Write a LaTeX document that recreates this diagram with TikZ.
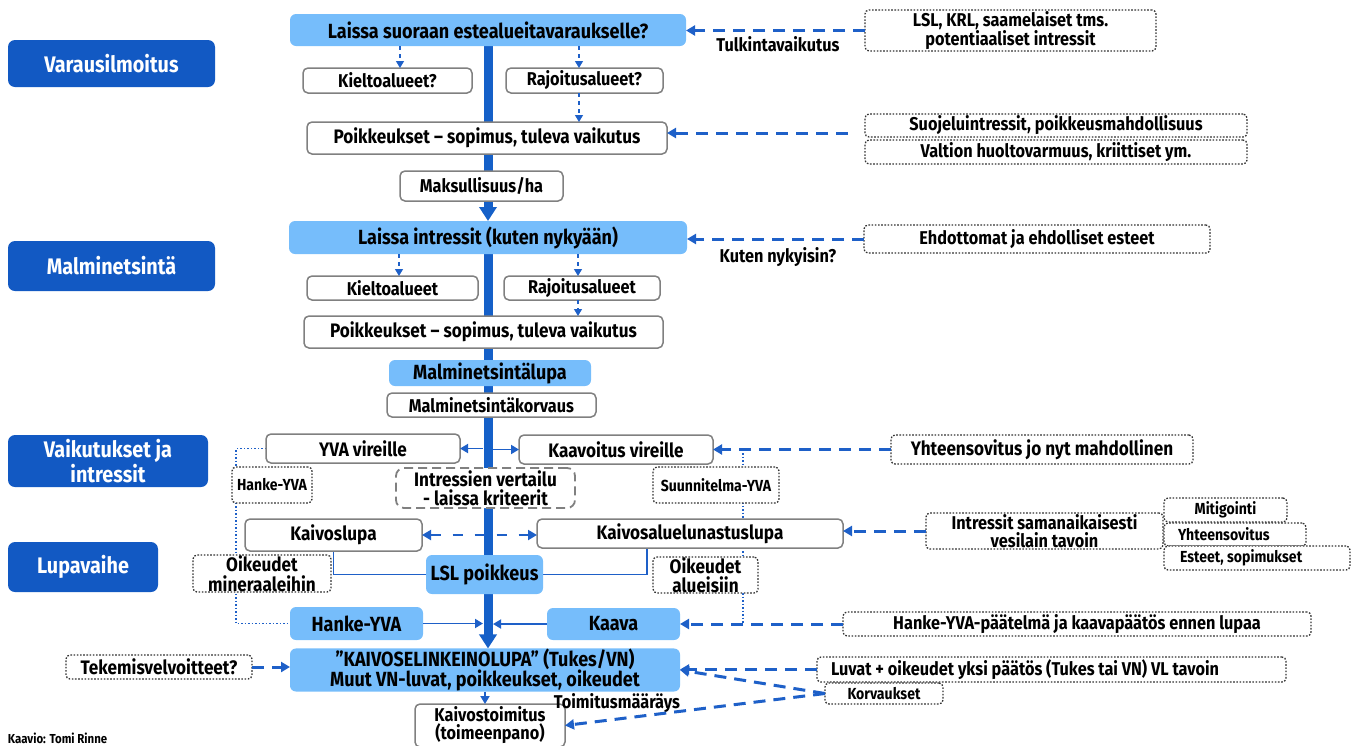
\documentclass[tikz,border=0pt]{standalone}
\usepackage{fontspec}
\setmainfont{Fira Sans}[FakeStretch=0.88]
\usetikzlibrary{arrows.meta,calc}
\definecolor{catblue}{HTML}{1259C3}
\definecolor{lblue}{HTML}{76BDFB}
\definecolor{spineblue}{HTML}{1560C8}
\definecolor{arrblue}{HTML}{1E60C8}
\definecolor{bordergray}{HTML}{808080}
\definecolor{dotgray}{HTML}{333333}
\pgfdeclarelayer{bg}
\pgfsetlayers{bg,main}
\newcommand\rbox[7]{\node[#1, minimum width={((#5)-(#3))*1pt}, minimum height={((#6)-(#4))*1pt}] (#2) at ({((#3)+(#5))/2},{((#4)+(#6))/2}) {#7};}
\tikzset{
  fs/.style={font=\bfseries\fontsize{#1}{#1}\selectfont},
  cat/.style={fill=catblue, rounded corners=7pt, text=white, fs=22.5, align=center},
  lb/.style={fill=lblue, rounded corners=6pt, text=black, fs=20.5, align=center},
  wb/.style={draw=bordergray, fill=white, line width=1.5pt, rounded corners=5pt, fs=19.5, align=center},
  dbox/.style={draw=dotgray, fill=white, line width=1.3pt, dash pattern=on 1.6pt off 1.6pt, rounded corners=4pt, fs=18.5, align=center},
  gbox/.style={draw=bordergray, fill=white, line width=1.8pt, dash pattern=on 9pt off 5pt, rounded corners=8pt, fs=19.5, align=center},
  spine/.style={draw=spineblue, line width=9pt, -{Triangle[length=14pt,width=17pt]}},
  dasharr/.style={draw=arrblue, line width=3pt, dash pattern=on 12pt off 8pt, -{Triangle[length=9pt,width=10pt]}},
  smalldash/.style={draw=arrblue, line width=1.3pt, dash pattern=on 4pt off 4pt, -{Triangle[length=7pt,width=8pt]}},
  solidarr/.style={draw=arrblue, line width=1.8pt, -{Triangle[length=8pt,width=9pt]}},
  dash2/.style={draw=arrblue, line width=2pt, dash pattern=on 10pt off 12pt, {Triangle[length=9pt,width=10pt]}-{Triangle[length=9pt,width=10pt]}},
  thinline/.style={draw=arrblue, line width=1.8pt},
  dotblue/.style={draw=arrblue, line width=1.6pt, dash pattern=on 1.5pt off 2pt},
  lbl/.style={fs=18.5}
}
\begin{document}
\begin{tikzpicture}[x=1pt, y=-1pt, every node/.style={inner sep=0pt, outer sep=0pt}]
\useasboundingbox (0,0) rectangle (1362,745);
\clip (0,0) rectangle (1362,745);

% category boxes
\rbox{cat}{c1}{8}{40}{215}{87}{Varausilmoitus}
\rbox{cat}{c2}{8}{241}{215}{291}{Malminetsintä}
\rbox{cat}{c3}{8}{435}{208}{487}{Vaikutukset ja\\intressit}
\rbox{cat}{c4}{8}{542}{158}{592}{Lupavaihe}

% central column
\rbox{lb}{B1}{290}{14}{686}{46}{Laissa suoraan estealueitavaraukselle?}
\rbox{wb,fs=18.5}{Kiel1}{303}{68}{472}{93}{Kieltoalueet?}
\rbox{wb,fs=18.5}{Raj1}{506}{68}{663}{93}{Rajoitusalueet?}
\rbox{wb}{Poik1}{307}{122}{667}{154}{Poikkeukset – sopimus, tuleva vaikutus}
\rbox{wb,fs=18.5}{Maks}{400}{171}{563}{201}{Maksullisuus/ha}
\rbox{lb}{B2}{289}{221}{687}{254}{Laissa intressit (kuten nykyään)}
\rbox{wb,fs=18.5}{Kiel2}{307}{276}{478}{300}{Kieltoalueet}
\rbox{wb,fs=18.5}{Raj2}{504}{276}{660}{300}{Rajoitusalueet}
\rbox{wb}{Poik2}{304}{316}{663}{348}{Poikkeukset – sopimus, tuleva vaikutus}
\rbox{lb}{MLupa}{389}{360}{591}{386}{Malminetsintälupa}
\rbox{wb,fs=18.5}{MKorv}{387}{393}{596}{417}{Malminetsintäkorvaus}
\rbox{wb}{YVAv}{266}{434}{460}{463}{YVA vireille}
\rbox{wb}{Kaav}{519}{435}{713}{464}{Kaavoitus vireille}
\rbox{dbox,fs=16}{HYs}{232}{467}{312}{503}{Hanke-YVA}
\rbox{gbox}{IV}{396}{468}{575}{508}{Intressien vertailu\\- laissa kriteerit}
\rbox{dbox,fs=16}{SY}{653}{467}{779}{503}{Suunnitelma-YVA}
\rbox{wb}{KL}{245}{519}{422}{551}{Kaivoslupa}
\rbox{wb}{KAL}{537}{519}{843}{548}{Kaivosaluelunastuslupa}
\rbox{lb}{LSL}{426}{555}{543}{594}{LSL poikkeus}
\rbox{dbox,fs=19.5}{OM}{193}{555}{331}{592}{Oikeudet\\mineraaleihin}
\rbox{dbox,fs=19.5}{OA}{653}{557}{758}{593}{Oikeudet\\alueisiin}
\rbox{lb}{HY}{290}{607}{423}{640}{Hanke-YVA}
\rbox{lb}{KA}{547}{608}{680}{640}{Kaava}
\rbox{lb,font=\bfseries\fontsize{20.5}{19.5}\selectfont}{KAIV}{290}{649}{680}{691}{”KAIVOSELINKEINOLUPA” (Tukes/VN)\\Muut VN-luvat, poikkeukset, oikeudet}
\rbox{wb,font=\bfseries\fontsize{18.5}{18}\selectfont}{Kt}{415}{704}{565}{747}{Kaivostoimitus\\(toimeenpano)}
\rbox{dbox,fs=19.5}{Tek}{66}{655}{252}{679}{Tekemisvelvoitteet?}

% right column
\rbox{dbox}{LSLK}{865}{10}{1156}{51}{LSL, KRL, saamelaiset tms.\\potentiaaliset intressit}
\rbox{dbox}{Suo}{865}{114}{1247}{137}{Suojeluintressit, poikkeusmahdollisuus}
\rbox{dbox}{Val}{865}{140}{1247}{164}{Valtion huoltovarmuus, kriittiset ym.}
\rbox{dbox}{Ehd}{864}{225}{1210}{253}{Ehdottomat ja ehdolliset esteet}
\rbox{dbox,fs=19.5}{Yht}{891}{435}{1193}{464}{Yhteensovitus jo nyt mahdollinen}
\rbox{dbox}{Intr}{926}{513}{1163}{549}{Intressit samanaikaisesti\\vesilain tavoin}
\rbox{dbox,fs=16}{Mit}{1164}{498}{1287}{522}{Mitigointi}
\rbox{dbox,fs=16,text width=114pt,align=flush left}{Yhs}{1164}{523}{1306}{546}{Yhteensovitus}
\rbox{dbox,fs=16,text width=154pt,align=flush left}{Est}{1164}{546}{1350}{570}{Esteet, sopimukset}
\rbox{dbox}{HP}{843}{612}{1311}{636}{Hanke-YVA-päätelmä ja kaavapäätös ennen lupaa}
\rbox{dbox,text width=441pt,align=flush left}{Luv}{817}{657}{1286}{682}{Luvat + oikeudet yksi päätös (Tukes tai VN) VL tavoin}
\rbox{dbox,fs=16}{Korv}{825}{683}{943}{704}{Korvaukset}

% labels
\node[lbl] (tv) at (778,44) {Tulkintavaikutus};
\node[lbl] (kn) at (778,257) {Kuten nykyisin?};
\node[lbl] (tm) at (617,703) {Toimitusmääräys};
\node[fs=13, anchor=base west] (kr) at (8,743) {Kaavio: Tomi Rinne};

% helper coordinates
\coordinate (k1) at (400,0);
\coordinate (r1) at (579,0);
\coordinate (k2) at (399,0);
\coordinate (r2) at (578,0);
\coordinate (sl) at (483,0);
\coordinate (sr) at (493,0);
\coordinate (hc) at (236,0);
\coordinate (sc) at (743,0);
\coordinate (sv) at (848,133);

\begin{pgfonlayer}{bg}
\draw[spine] (B1.south) -- (B2.north);
\draw[spine] (B2.south) -- (B2.south |- KAIV.north);
\draw[dotblue] (YVAv.west) -| (HY.west -| hc) -- (HY.west);
\draw[dotblue] (Kaav.east -| sc) -- (KA.east -| sc);
\draw[thinline] (KL.south) |- (LSL.west);
\draw[thinline] ([xshift=-43pt]KAL.south) |- (LSL.east);
\end{pgfonlayer}

% small dashed arrows
\draw[smalldash] (B1.south -| k1) -- (Kiel1.north -| k1);
\draw[smalldash] (B1.south -| r1) -- (Raj1.north -| r1);
\draw[smalldash] (Raj1.south -| r1) -- (Poik1.north -| r1);
\draw[smalldash] (B2.south -| k2) -- (Kiel2.north -| k2);
\draw[smalldash] (B2.south -| r2) -- (Raj2.north -| r2);
\draw[smalldash] (Raj2.south -| r2) -- (Poik2.north -| r2);

% solid arrows from spine
\draw[solidarr] (YVAv.east -| sl) -- (YVAv.east);
\draw[solidarr] (Kaav.west -| sr) -- (Kaav.west);
\draw[dash2] (KL.east) -- (KL.east -| KAL.west);
\draw[solidarr] (HY.east) -- (HY.east -| sl);
\draw[solidarr] (KA.west) -- (KA.west -| sr);
\draw[solidarr] (KAIV.south) -- (KAIV.south |- Kt.north);

% dashed arrows from the right
\draw[dasharr] (LSLK.west) -- (LSLK.west -| B1.east);
\draw[dasharr] (sv) -- (sv -| Poik1.east);
\draw[dasharr] (Ehd.west) -- (Ehd.west -| B2.east);
\draw[dasharr] (Yht.west) -- (Kaav.east);
\draw[dasharr] (Intr.west) -- (Intr.west -| KAL.east);
\draw[dasharr] (HP.west) -- (KA.east);
\draw[dasharr] (Luv.west) -- (Luv.west -| KAIV.east);
\draw[dasharr] (Korv.west) -- (KAIV.east);
\draw[dasharr] (Korv.west) -- (Kt.east);
\draw[dasharr] (Tek.east) -- (Tek.east -| KAIV.west);
\end{tikzpicture}
\end{document}
